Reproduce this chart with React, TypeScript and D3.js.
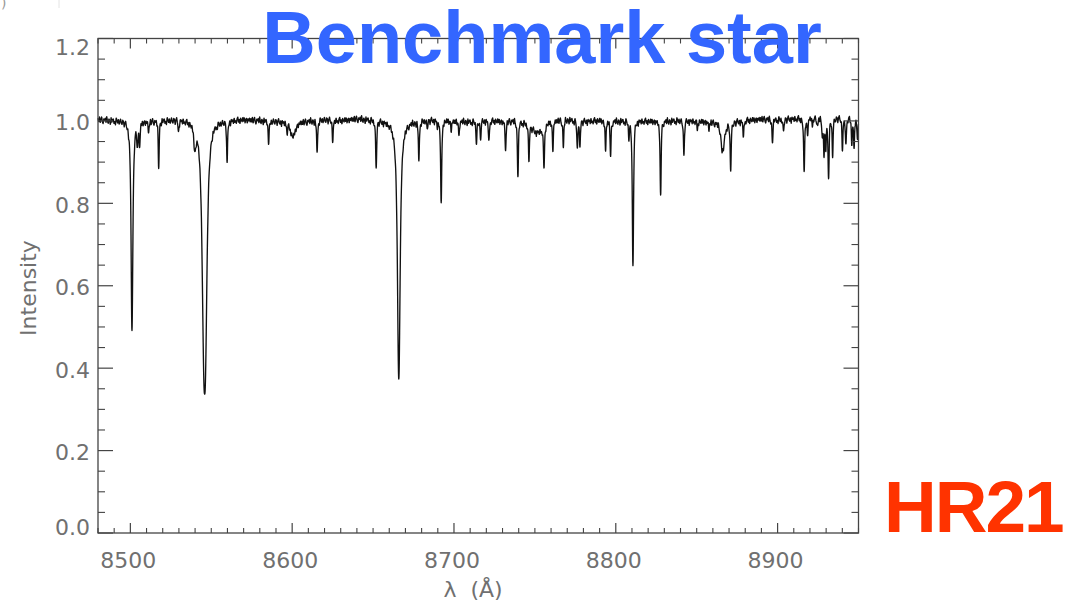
import React from 'react';
import * as d3 from 'd3';

const W = 1078;
const H = 602;

// axis ranges and tick labels
const xDomain: [number, number] = [8480, 8950];
const yDomain: [number, number] = [0, 1.2];
const xMajorTicks = [8500, 8600, 8700, 8800, 8900];
const yMajorTicks = [0.0, 0.2, 0.4, 0.6, 0.8, 1.0, 1.2];

// continuum level read every 10 Å (8480 … 8950)
const continuumWl = [
  8480, 8490, 8500, 8510, 8520, 8530, 8540, 8550, 8560, 8570, 8580, 8590,
  8600, 8610, 8620, 8630, 8640, 8650, 8660, 8670, 8680, 8690, 8700, 8710,
  8720, 8730, 8740, 8750, 8760, 8770, 8780, 8790, 8800, 8810, 8820, 8830,
  8840, 8850, 8860, 8870, 8880, 8890, 8900, 8910, 8920, 8930, 8940, 8950,
];
const continuumVal = [
  1.002, 1.0, 1.0, 0.998, 1.0, 1.002, 0.998, 0.996, 1.0, 1.002, 1.0, 0.998,
  0.995, 0.998, 1.002, 1.0, 1.004, 1.002, 0.998, 0.996, 1.0, 1.002, 0.998, 0.997,
  1.0, 0.998, 1.0, 0.99, 1.0, 1.002, 0.998, 1.0, 0.998, 1.0, 0.998, 0.998,
  1.0, 0.998, 0.996, 0.995, 1.0, 1.003, 1.002, 1.004, 1.006, 1.004, 1.006, 1.004,
];

// photon noise pattern (fractional deviations)
const noise = [
  0.005, -0.004, 0.008, -0.006, 0.003, 0.009, -0.003, -0.008, 0.004, 0.0,
  0.006, -0.005, 0.01, -0.001, -0.006, 0.005, 0.001, -0.009, 0.008, -0.003,
  0.004, 0.006, -0.005, 0.0, -0.008, 0.009, 0.003, -0.004, 0.005, -0.006,
  0.001, 0.008, -0.003, -0.005, 0.006, 0.004, -0.008, 0.003, 0.009, -0.001,
  -0.004, 0.005, -0.009, 0.006, 0.0, 0.004, -0.005, 0.008, -0.003, 0.001,
  -0.006, 0.005, 0.009, -0.004, 0.003, -0.008, 0.006, 0.0, -0.003, 0.008,
  -0.002, 0.007, -0.006, 0.002, 0.005, -0.007, 0.004, -0.001, 0.006, -0.004,
];

// absorption lines: wavelength (Å), minimum intensity, half width (Å)
const lineWl = [
  8501.0, 8504.3, 8505.7, 8511.3, 8517.5, 8529.8, 8539.9, 8545.9, 8559.8, 8585.5,
  8596.9, 8600.5, 8615.4, 8625.1, 8651.9, 8665.9, 8678.3, 8683.5, 8689.8, 8692.1,
  8698.3, 8703.0, 8713.9, 8716.4, 8721.6, 8731.9, 8739.5, 8746.3, 8752.0, 8755.6,
  8761.1, 8767.6, 8776.2, 8777.8, 8793.7, 8796.8, 8808.1, 8810.6, 8827.7, 8842.1,
  8850.4, 8857.6, 8866.1, 8871.0, 8878.9, 8896.8, 8903.6, 8916.4, 8918.5, 8921.6,
  8924.7, 8927.7, 8928.7, 8929.8, 8931.5, 8934.0, 8940.1, 8942.2, 8945.9, 8947.3,
  8949.4,
];
const lineMin = [
  0.49, 0.95, 0.945, 0.974, 0.888, 0.973, 0.945, 0.34, 0.897, 0.946,
  0.98, 0.966, 0.919, 0.95, 0.889, 0.374, 0.901, 0.985, 0.985, 0.796,
  0.98, 0.966, 0.946, 0.956, 0.948, 0.927, 0.871, 0.913, 0.98, 0.897,
  0.931, 0.934, 0.934, 0.94, 0.928, 0.913, 0.962, 0.646, 0.823, 0.913,
  0.982, 0.982, 0.93, 0.889, 0.962, 0.946, 0.97, 0.873, 0.962, 0.982,
  0.982, 0.958, 0.922, 0.93, 0.861, 0.913, 0.925, 0.934, 0.942, 0.93,
  0.95,
];
const lineWidth = [
  0.65, 0.4, 0.4, 0.35, 0.35, 0.35, 0.8, 1.6, 0.35, 0.35,
  0.35, 1.8, 0.35, 0.35, 0.4, 1.0, 0.35, 0.4, 0.4, 0.4,
  0.35, 0.35, 0.35, 0.35, 0.35, 0.35, 0.4, 0.35, 4.0, 0.4,
  0.35, 0.35, 0.35, 0.35, 0.35, 0.35, 0.35, 0.45, 0.4, 0.35,
  0.35, 0.35, 1.3, 0.4, 0.35, 0.35, 0.35, 0.4, 0.35, 0.35,
  0.35, 0.35, 0.35, 0.35, 0.4, 0.35, 0.35, 0.35, 0.35, 0.35,
  0.35,
];
const lineSharp = lineWl.map((_, i) => (i === 7 ? 2.6 : i === 0 || i === 15 ? 2.2 : 2.4));

const plot = { left: 98, right: 858.5, top: 38.5, bottom: 533 };

function buildSpectrum() {
  const contScale = d3.scaleLinear().domain(continuumWl).range(continuumVal).clamp(true);
  const grid = d3.range(xDomain[0], xDomain[1] + 0.0001, 0.1);
  const n = noise.length;
  return grid.map((wl) => {
    const t = (wl - xDomain[0]) / 0.45;
    const i = Math.floor(t);
    const f = t - i;
    const jit = noise[i % n] * (1 - f) + noise[(i + 1) % n] * f;
    let v = contScale(wl) * (1 + jit);
    for (let k = 0; k < lineWl.length; k++) {
      const d = Math.abs(wl - lineWl[k]) / lineWidth[k];
      if (d > 60) continue;
      v *= 1 - (1 - lineMin[k]) / (1 + Math.pow(d, lineSharp[k]));
    }
    return { wl, v };
  });
}

export default function App() {
  const x = d3.scaleLinear().domain(xDomain).range([plot.left, plot.right]);
  const y = d3.scaleLinear().domain(yDomain).range([plot.bottom, plot.top]);
  const data = buildSpectrum();
  const line = d3
    .line<{ wl: number; v: number }>()
    .x((d) => x(d.wl))
    .y((d) => y(d.v));

  const xMinor = d3.range(8480, 8951, 10).filter((v) => !xMajorTicks.includes(v));
  const yMinor = d3.range(0, 24.5, 1).map((i) => i * 0.05).filter((_, i) => i % 4 !== 0);
  const fmt = d3.format('.1f');
  const axisColor = '#444';
  const labelColor = '#707070';
  const font = "'DejaVu Sans', sans-serif";

  const yLabelY = (v: number) => Math.max(plot.top + 8.5, Math.min(plot.bottom - 6, y(v) + 2));

  return (
    <svg width={W} height={H} style={{ position: 'absolute', left: 0, top: 0, background: '#fff' }}>
      <rect x={0} y={0} width={W} height={H} fill="#fff" />
      <text x={1} y={8} fontSize={14} fill="#999" fontFamily={font}>)</text>
      <line x1={59} x2={59} y1={0} y2={8} stroke="#e4e4e4" strokeWidth={1} />

      {/* spectrum */}
      <path d={line(data) || ''} fill="none" stroke="#111" strokeWidth={1.35} strokeLinejoin="round" />

      {/* frame */}
      <rect
        x={plot.left}
        y={plot.top}
        width={plot.right - plot.left}
        height={plot.bottom - plot.top}
        fill="none"
        stroke={axisColor}
        strokeWidth={1.3}
      />
      {/* x ticks bottom & top */}
      {xMajorTicks.map((t) => (
        <g key={'xM' + t}>
          <line x1={x(t)} x2={x(t)} y1={plot.bottom} y2={plot.bottom - 10} stroke={axisColor} strokeWidth={1.2} />
          <line x1={x(t)} x2={x(t)} y1={plot.top} y2={plot.top + 10} stroke={axisColor} strokeWidth={1.2} />
          <text x={x(t) - 2} y={568} textAnchor="middle" fontSize={22} fill={labelColor} fontFamily={font}>
            {t}
          </text>
        </g>
      ))}
      {xMinor.map((t) => (
        <g key={'xm' + t}>
          <line x1={x(t)} x2={x(t)} y1={plot.bottom} y2={plot.bottom - 5} stroke={axisColor} strokeWidth={1.1} />
          <line x1={x(t)} x2={x(t)} y1={plot.top} y2={plot.top + 5} stroke={axisColor} strokeWidth={1.1} />
        </g>
      ))}
      {/* y ticks left & right */}
      {yMajorTicks.map((t) => (
        <g key={'yM' + t}>
          <line x1={plot.left} x2={plot.left + 15} y1={y(t)} y2={y(t)} stroke={axisColor} strokeWidth={1.2} />
          <line x1={plot.right} x2={plot.right - 15} y1={y(t)} y2={y(t)} stroke={axisColor} strokeWidth={1.2} />
          <text
            x={90}
            y={yLabelY(t)}
            textAnchor="end"
            dominantBaseline="central"
            fontSize={22}
            fill={labelColor}
            fontFamily={font}
          >
            {fmt(t)}
          </text>
        </g>
      ))}
      {yMinor.map((t) => (
        <g key={'ym' + t}>
          <line x1={plot.left} x2={plot.left + 7} y1={y(t)} y2={y(t)} stroke={axisColor} strokeWidth={1.1} />
          <line x1={plot.right} x2={plot.right - 7} y1={y(t)} y2={y(t)} stroke={axisColor} strokeWidth={1.1} />
        </g>
      ))}

      {/* axis titles */}
      <text x={473} y={597} textAnchor="middle" fontSize={22} fill={labelColor} fontFamily={font} xmlSpace="preserve">
        {'λ  (Å)'}
      </text>
      <text
        transform="translate(36,288) rotate(-90)"
        textAnchor="middle"
        fontSize={22}
        fill={labelColor}
        fontFamily={font}
      >
        Intensity
      </text>

      {/* overlay titles */}
      <text
        x={542}
        y={63}
        textAnchor="middle"
        fontSize={74}
        fontWeight="bold"
        fill="#3366ff"
        fontFamily="'Liberation Sans', Arial, sans-serif"
      >
        Benchmark star
      </text>
      <text
        x={884}
        y={531.5}
        fontSize={73}
        fontWeight="bold"
        letterSpacing={-2}
        fill="#ff3300"
        fontFamily="'Liberation Sans', Arial, sans-serif"
      >
        HR21
      </text>
    </svg>
  );
}
